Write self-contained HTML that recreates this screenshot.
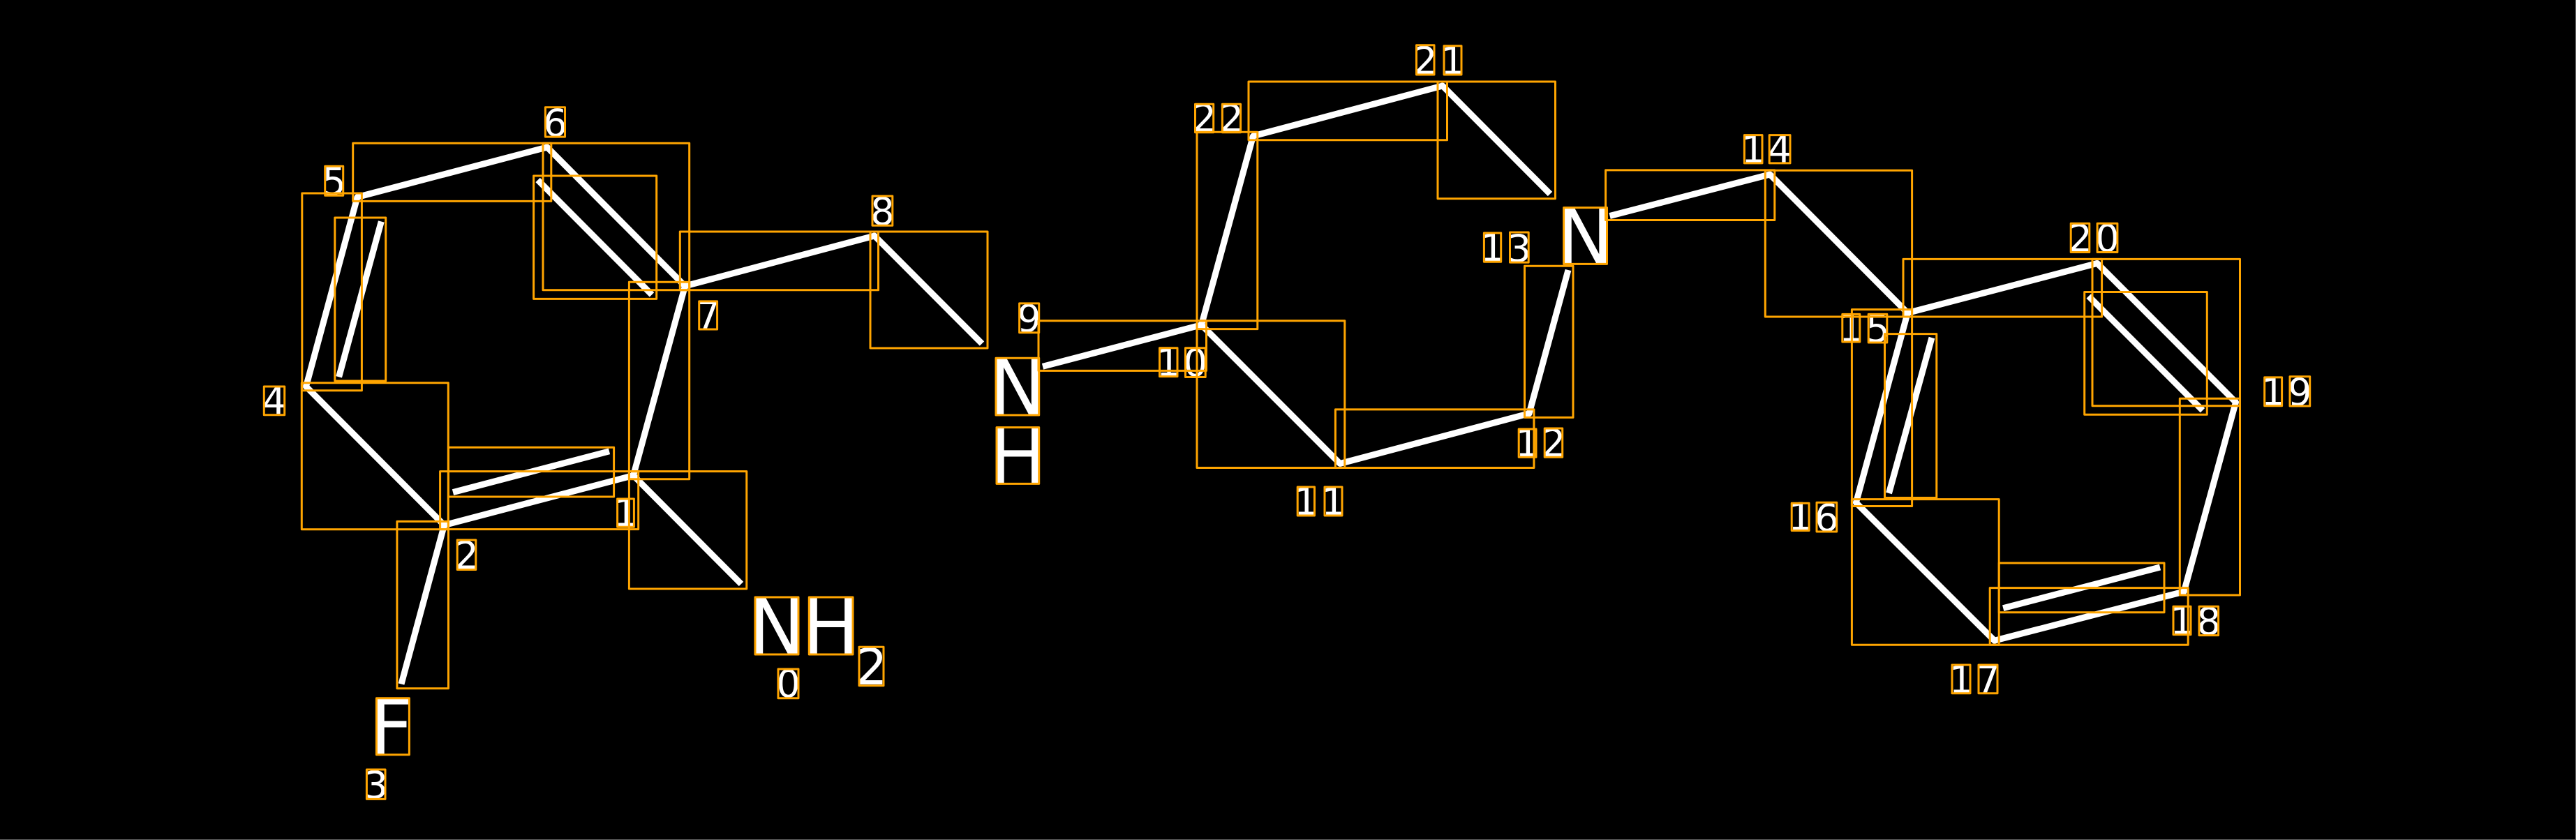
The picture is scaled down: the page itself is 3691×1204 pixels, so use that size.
<!DOCTYPE html>
<html>
<head>
<meta charset="utf-8">
<style>
html,body{margin:0;padding:0;background:#000;width:3691px;height:1204px;overflow:hidden}
svg{display:block}
text{font-family:"DejaVu Sans",sans-serif;fill:#fff;text-anchor:middle}
.l{font-size:54px}
.a{font-size:110px}
.s{font-size:72px}
.b line{stroke:#fff;stroke-width:9;stroke-linecap:butt}
.b circle{fill:#fff}
.r rect{fill:none;stroke:#ffa500;stroke-width:3;stroke-linejoin:round}
</style>
</head>
<body>
<svg width="3691" height="1204" viewBox="0 0 3691 1204" xmlns="http://www.w3.org/2000/svg">
<rect x="0" y="0" width="3691" height="1204" fill="#000"/>
<rect x="3690" y="0" width="1" height="1204" fill="#666"/>
<rect x="0" y="1203" width="3691" height="1" fill="#666"/>
<g class="b">
<line x1="512" y1="282.5" x2="784" y2="211"/>
<line x1="784" y1="211" x2="981.5" y2="410"/>
<line x1="770.6" y1="258" x2="934" y2="422.4"/>
<line x1="981.5" y1="410" x2="1253" y2="338"/>
<line x1="1253" y1="338" x2="1407" y2="492.5"/>
<line x1="438.5" y1="554" x2="512" y2="282.5"/>
<line x1="485.6" y1="540.3" x2="546.3" y2="317.5"/>
<line x1="907.5" y1="681.5" x2="981.5" y2="410"/>
<line x1="636.5" y1="752.7" x2="907.5" y2="681.5"/>
<line x1="649" y1="705.6" x2="873" y2="646.8"/>
<line x1="907.5" y1="681.5" x2="1062" y2="837"/>
<line x1="438.5" y1="554" x2="636.5" y2="752.7"/>
<line x1="636.5" y1="752.7" x2="575" y2="980.5"/>
<line x1="1494" y1="525.3" x2="1721.5" y2="465.7"/>
<line x1="1721.5" y1="465.7" x2="1795.5" y2="195"/>
<line x1="1795.5" y1="195" x2="2067" y2="123"/>
<line x1="2067" y1="123" x2="2221" y2="278"/>
<line x1="1721.5" y1="465.7" x2="1920" y2="664.5"/>
<line x1="1920" y1="664.5" x2="2191" y2="592.7"/>
<line x1="2191" y1="592.7" x2="2247" y2="387"/>
<line x1="2306.6" y1="309.5" x2="2536" y2="250"/>
<line x1="2536" y1="250" x2="2733.3" y2="448.5"/>
<line x1="2733.3" y1="448.5" x2="3005" y2="377.4"/>
<line x1="3005" y1="377.4" x2="3203.5" y2="576.5"/>
<line x1="2992.7" y1="424.5" x2="3156" y2="588.2"/>
<line x1="3203.5" y1="576.5" x2="3129.3" y2="848"/>
<line x1="3129.3" y1="848" x2="2857.7" y2="918.2"/>
<line x1="2870.2" y1="871.7" x2="3095" y2="813"/>
<line x1="2659.4" y1="720.5" x2="2857.7" y2="918.2"/>
<line x1="2733.3" y1="448.5" x2="2659.4" y2="720.5"/>
<line x1="2706.5" y1="707" x2="2768" y2="484"/>
<circle cx="512" cy="282.5" r="4.5"/><circle cx="784" cy="211" r="4.5"/><circle cx="981.5" cy="410" r="4.5"/><circle cx="1253" cy="338" r="4.5"/>
<circle cx="438.5" cy="554" r="4.5"/><circle cx="907.5" cy="681.5" r="4.5"/><circle cx="636.5" cy="752.7" r="4.5"/>
<circle cx="1721.5" cy="465.7" r="4.5"/><circle cx="1795.5" cy="195" r="4.5"/><circle cx="2067" cy="123" r="4.5"/><circle cx="1920" cy="664.5" r="4.5"/><circle cx="2191" cy="592.7" r="4.5"/>
<circle cx="2536" cy="250" r="4.5"/><circle cx="2733.3" cy="448.5" r="4.5"/><circle cx="3005" cy="377.4" r="4.5"/><circle cx="3203.5" cy="576.5" r="4.5"/><circle cx="3129.3" cy="848" r="4.5"/><circle cx="2857.7" cy="918.2" r="4.5"/><circle cx="2659.4" cy="720.5" r="4.5"/>
</g>
<g>
<text class="a" x="1113" y="937">N</text>
<text class="a" x="1190.5" y="937">H</text>
<text class="s" x="1248.5" y="981">2</text>
<text class="a" x="560.7" y="1080.5">F</text>
<text class="a" x="1458" y="593.5">N</text>
<text class="a" x="1458.3" y="692.5">H</text>
<text class="a" x="2271.5" y="377.5">N</text>
<text class="l" x="1129.5" y="999">0</text>
<text class="l" x="896.5" y="754">1</text>
<text class="l" x="668.5" y="815">2</text>
<text class="l" x="538.7" y="1144">3</text>
<text class="l" x="393" y="593.5">4</text>
<text class="l" x="478.7" y="279">5</text>
<text class="l" x="795.5" y="195">6</text>
<text class="l" x="1014.6" y="471">7</text>
<text class="l" x="1264.4" y="322">8</text>
<text class="l" x="1474.6" y="475.5">9</text>
<text class="l" x="1674.2" y="538.5">1</text>
<text class="l" x="1712.8" y="539">0</text>
<text class="l" x="1871.3" y="738">1</text>
<text class="l" x="1910.5" y="738">1</text>
<text class="l" x="2188.6" y="654">1</text>
<text class="l" x="2226" y="654">2</text>
<text class="l" x="2138.5" y="374">1</text>
<text class="l" x="2176.8" y="375">3</text>
<text class="l" x="2512.2" y="233">1</text>
<text class="l" x="2550" y="233">4</text>
<text class="l" x="2652.3" y="489">1</text>
<text class="l" x="2690.5" y="490">5</text>
<text class="l" x="2579.6" y="759.5">1</text>
<text class="l" x="2617.3" y="761">6</text>
<text class="l" x="2810" y="993">1</text>
<text class="l" x="2848.5" y="993">7</text>
<text class="l" x="3126.5" y="908.5">1</text>
<text class="l" x="3164.8" y="909.5">8</text>
<text class="l" x="3257.1" y="580.5">1</text>
<text class="l" x="3295.3" y="581">9</text>
<text class="l" x="2980.5" y="360.5">2</text>
<text class="l" x="3019.5" y="360.5">0</text>
<text class="l" x="2042.2" y="106">2</text>
<text class="l" x="2081.5" y="106">1</text>
<text class="l" x="1725.6" y="188.5">2</text>
<text class="l" x="1764.5" y="188.5">2</text>
</g>
<g class="r">
<rect x="505.7" y="205.3" width="284.1" height="83.1"/>
<rect x="778" y="205.3" width="209.7" height="210.5"/>
<rect x="764.6" y="252" width="176.1" height="176.4"/>
<rect x="974.3" y="332" width="284.2" height="83.8"/>
<rect x="1247" y="332" width="168" height="167"/>
<rect x="432.8" y="277" width="85.6" height="282.7"/>
<rect x="479.8" y="312" width="72.9" height="234"/>
<rect x="901.4" y="404.3" width="86.3" height="282.5"/>
<rect x="630.6" y="675.6" width="284.1" height="83"/>
<rect x="642.5" y="641.3" width="237.1" height="70.7"/>
<rect x="901.4" y="675.6" width="168.4" height="168.4"/>
<rect x="432.3" y="548.7" width="210" height="210"/>
<rect x="568.9" y="747.4" width="73.6" height="239.4"/>
<rect x="1488" y="459.7" width="240.5" height="71.7"/>
<rect x="1715" y="189.2" width="86.8" height="282.4"/>
<rect x="1789" y="117" width="284.5" height="83.7"/>
<rect x="2060" y="117" width="168.5" height="167.8"/>
<rect x="1715" y="459.7" width="211.8" height="210.8"/>
<rect x="1913.4" y="586.9" width="284.5" height="83.6"/>
<rect x="2184.5" y="381.2" width="69.5" height="217.2"/>
<rect x="2300.6" y="243.9" width="242.2" height="71.6"/>
<rect x="2529.3" y="244.3" width="210.3" height="209.7"/>
<rect x="2727" y="371.4" width="284.6" height="82.6"/>
<rect x="2998" y="371.4" width="211.5" height="210.3"/>
<rect x="2986.7" y="418.5" width="175.6" height="175.7"/>
<rect x="3123.3" y="571.2" width="86.2" height="281.8"/>
<rect x="2851.2" y="842.6" width="284" height="81.6"/>
<rect x="2864.2" y="807" width="236.8" height="70.7"/>
<rect x="2653.4" y="715.6" width="210.8" height="208.6"/>
<rect x="2653.4" y="443.6" width="86.2" height="281.9"/>
<rect x="2700.5" y="478.6" width="74.3" height="234.9"/>
<rect x="1082" y="856" width="62" height="82"/>
<rect x="1159.3" y="856" width="62.7" height="82"/>
<rect x="1231" y="927.3" width="35" height="55.4"/>
<rect x="1115" y="959" width="29" height="41.7"/>
<rect x="539.4" y="1000.7" width="47" height="81"/>
<rect x="884.6" y="715" width="23.8" height="40.2"/>
<rect x="655.2" y="774" width="26.6" height="42.5"/>
<rect x="525.4" y="1103" width="26.6" height="42.4"/>
<rect x="378.3" y="554" width="29.4" height="40.7"/>
<rect x="465.7" y="238.2" width="26" height="42.1"/>
<rect x="781.4" y="153.7" width="28.1" height="42.4"/>
<rect x="1001.7" y="431.9" width="25.9" height="40.1"/>
<rect x="1250" y="281" width="28.8" height="42.2"/>
<rect x="1460.6" y="434.9" width="28.1" height="41.8"/>
<rect x="1427" y="513.3" width="61.7" height="81.7"/>
<rect x="1428" y="612.6" width="60.7" height="80.8"/>
<rect x="2240.6" y="297.6" width="61.9" height="80.8"/>
<rect x="1661.5" y="498.7" width="25.5" height="40.9"/>
<rect x="1698.5" y="498.7" width="28.7" height="41.8"/>
<rect x="1859.2" y="698" width="24.3" height="41"/>
<rect x="1898" y="698" width="25" height="41"/>
<rect x="2176.2" y="615" width="24.8" height="40.3"/>
<rect x="2213.2" y="614" width="25.5" height="41.3"/>
<rect x="2126.4" y="333.9" width="24.3" height="41.3"/>
<rect x="2163.5" y="333" width="26.7" height="43.1"/>
<rect x="2499.4" y="193.6" width="25.6" height="40.3"/>
<rect x="2535.2" y="193.6" width="29.8" height="40.3"/>
<rect x="2639.8" y="450.4" width="25" height="39.6"/>
<rect x="2677.2" y="450.4" width="26.6" height="40.6"/>
<rect x="2567.2" y="721.3" width="24.9" height="39.2"/>
<rect x="2603" y="720.3" width="28.7" height="41.7"/>
<rect x="2797" y="953" width="26" height="40.8"/>
<rect x="2835" y="953" width="27" height="40.8"/>
<rect x="3114" y="869.3" width="25" height="40.3"/>
<rect x="3151" y="869.3" width="27.6" height="41.3"/>
<rect x="3244.7" y="540.9" width="24.9" height="40.8"/>
<rect x="3281" y="539.8" width="28.7" height="42.2"/>
<rect x="2967.2" y="320.2" width="26.6" height="41.3"/>
<rect x="3005.1" y="320.2" width="28.8" height="41.3"/>
<rect x="2029.5" y="64.8" width="25.5" height="42.2"/>
<rect x="2069" y="65.7" width="25" height="41.3"/>
<rect x="1712.5" y="149.3" width="26.2" height="40.4"/>
<rect x="1751.4" y="149.3" width="26.2" height="40.4"/>
</g>
</svg>
</body>
</html>
